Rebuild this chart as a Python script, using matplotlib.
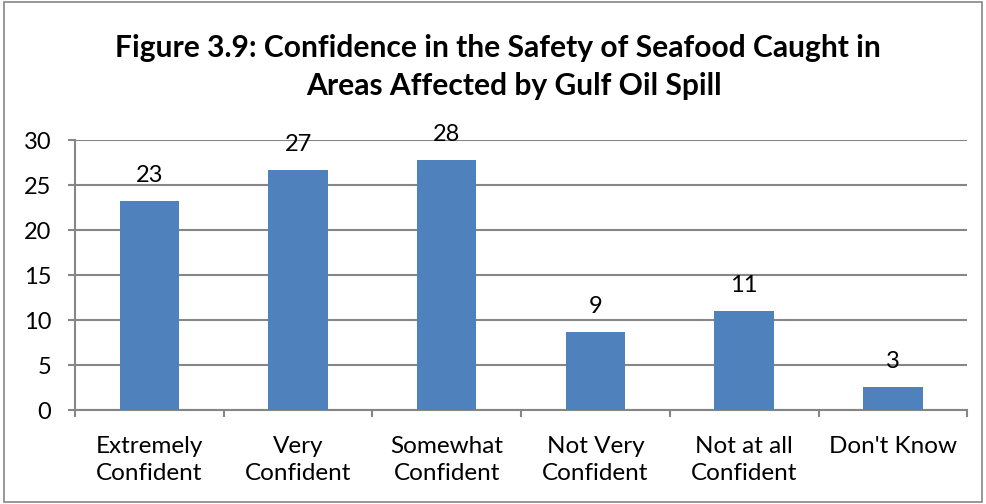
import numpy as np
import matplotlib.pyplot as plt
from matplotlib.patches import Rectangle

categories = ["Extremely\nConfident", "Very\nConfident", "Somewhat\nConfident",
              "Not Very\nConfident", "Not at all\nConfident", "Don't Know"]
values = [23.2, 26.7, 27.8, 8.7, 11.0, 2.6]
labels = ["23", "27", "28", "9", "11", "3"]
title1 = "Figure 3.9: Confidence in the Safety of Seafood Caught in"
title2 = "Areas Affected by Gulf Oil Spill"

plt.rcParams['font.family'] = ['Lato', 'DejaVu Sans']
grey = "#868686"

fig = plt.figure(figsize=(9.86, 5.04), dpi=100)
ax = fig.add_axes([0.076, 0.1865, 0.905, 0.5355])

x = np.arange(len(categories))
bars = ax.bar(x, values, 0.4, color="#4f81bd", zorder=3)
for b, t in zip(bars, labels):
    ax.text(b.get_x() + b.get_width() / 2, b.get_height() + 2.1, t,
            ha="center", va="baseline", fontsize=17, color="black")

ax.set_xlim(-0.5, len(categories) - 0.5)
ax.set_ylim(0, 30)
ax.set_yticks(range(0, 31, 5))
ax.yaxis.grid(True, color=grey, linewidth=1.5, zorder=0)
ax.set_xticks(x)
ax.set_xticklabels(categories, fontsize=17.5, linespacing=1.32)
ax.set_xticks(np.arange(-0.5, len(categories), 1), minor=True)
ax.tick_params(axis="x", which="major", length=0, pad=19)
ax.tick_params(axis="x", which="minor", length=5, color=grey, width=1.5)
ax.tick_params(axis="y", length=5, color=grey, width=1.5, labelsize=17, pad=12)
for s in ["top", "right"]:
    ax.spines[s].set_visible(False)
for s in ["left", "bottom"]:
    ax.spines[s].set_color(grey)
    ax.spines[s].set_linewidth(1.5)

fig.text(0.5046, 0.887, title1, ha="center", va="baseline", fontsize=21.6, fontweight="bold")
fig.text(0.5208, 0.8115, title2, ha="center", va="baseline", fontsize=21.6, fontweight="bold")

fig.patches.append(Rectangle((0.004, 0.004), 0.992, 0.992, transform=fig.transFigure,
                             fill=False, edgecolor=grey, linewidth=1.2))

fig.savefig("out.png", dpi=100)
